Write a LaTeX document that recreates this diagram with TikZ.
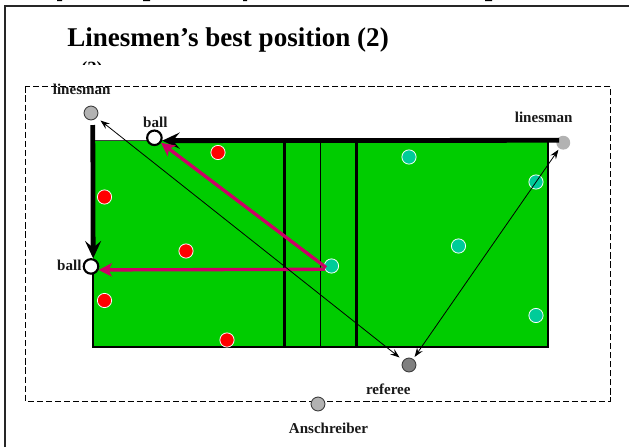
\documentclass[tikz,border=0pt]{standalone}
\usepackage{fontspec}
\setmainfont{Liberation Serif}
\usetikzlibrary{arrows.meta}
\definecolor{court}{RGB}{0,204,0}
\definecolor{teamb}{RGB}{0,204,153}
\definecolor{pass}{RGB}{204,0,102}
\definecolor{gl}{RGB}{178,178,178}
\definecolor{gd}{RGB}{128,128,128}
\tikzset{
 player/.style={circle,draw=white,line width=0.6pt,minimum size=10.7pt,inner sep=0pt},
 official/.style={circle,draw=black!75,line width=0.7pt,minimum size=10.4pt,inner sep=0pt,fill=gl},
 ballnode/.style={circle,draw=black,line width=1.6pt,fill=white,minimum size=10.9pt,inner sep=0pt},
 lbl/.style={font=\bfseries\fontsize{11.3}{12}\selectfont,text=black!90,inner sep=0pt},
 thin arrow/.style={draw=black,line width=0.6pt,{Stealth[length=7pt,width=5pt,inset=2.5pt]}-{Stealth[length=7pt,width=5pt,inset=2.5pt]}},
 pass arrow/.style={draw=pass,line width=2.5pt,-{Stealth[length=10pt,width=10pt,inset=2.5pt]}},
 move arrow/.style={draw=black,line width=3.6pt,-{Stealth[length=13pt,width=12pt,inset=5pt]}},
}
\begin{document}
\begin{tikzpicture}[x=0.75pt,y=-0.75pt]
\useasboundingbox (0,0) rectangle (629,447);
\fill[black] (57,0) rectangle (62,1) (143,0) rectangle (150,1) (243,0) rectangle (247,1) (485,0) rectangle (492,1);
\draw[line width=1.5pt,black!85] (4.7,447) -- (4.7,6) -- (629,6);
\node[font=\bfseries\fontsize{20.3}{22}\selectfont,anchor=west,inner sep=0pt] (title) at (67,40) {Linesmen’s best position (2)};
\begin{scope}
\clip (75,60) rectangle (110,64.5);
\node[font=\bfseries\fontsize{14}{16}\selectfont,anchor=base,inner sep=0pt] (cut) at (92,74) {(2)};
\end{scope}
\draw[line width=0.6pt,dash pattern=on 4.6pt off 2.2pt] (25.6,86.4) rectangle (610.4,401.4);
\fill[court] (93,140) rectangle (548,347);
\draw[line width=1.8pt] (548,140) -- (548,347) -- (93,347) -- (93,265);
\draw[line width=1.8pt] (284.5,140) -- (284.5,347);
\draw[line width=1.1pt] (320.5,140) -- (320.5,347);
\draw[line width=1.8pt] (356.6,140) -- (356.6,347);
\draw[line width=0.9pt,black!75] (93,140.3) -- (150,140.3);
\foreach \n/\x/\y in {a/218/152.5,b/104.5/197,c/186/251,d/104.5/300.5,e/227/340}
  \node[player,fill=red] (\n) at (\x,\y) {};
\foreach \n/\x/\y in {f/409/157,g/536/182,h/331.5/266,i/458.5/246,j/536/315.5}
  \node[player,fill=teamb] (\n) at (\x,\y) {};
\node[official] (l1) at (91,113) {};
\node[official,draw=none] (l2) at (563.3,142.7) {};
\node[official,fill=gd] (ref) at (409,365) {};
\node[official] (sc) at (318,404) {};
\node[ballnode] (b1) at (154.4,137.8) {};
\node[ballnode] (b2) at (91,266.4) {};
\coordinate (m1) at (559,140.3);
\coordinate (m2) at (92.8,125);
\coordinate (p1) at (326,267.5);
\coordinate (p2) at (325,269.3);
\draw[move arrow] (m1) -- (b1.-20);
\draw[move arrow] (m2) -- (b2.75);
\draw[pass arrow] (p1) -- (b1);
\draw[pass arrow] (p2) -- (b2.-25);
\draw[thin arrow,shorten <=3.5pt,shorten >=3.5pt] (ref) -- (l1);
\draw[thin arrow,shorten <=1.8pt,shorten >=0.8pt] (ref) -- (l2);
\node[lbl] (t1) at (81.7,89) {linesman};
\node[lbl] (t2) at (155.3,122) {ball};
\node[lbl] (t3) at (543.7,117) {linesman};
\node[lbl] (t4) at (69.3,265) {ball};
\node[lbl] (t5) at (388.3,389) {referee};
\node[lbl] (t6) at (328.5,428.5) {Anschreiber};
\end{tikzpicture}
\end{document}
